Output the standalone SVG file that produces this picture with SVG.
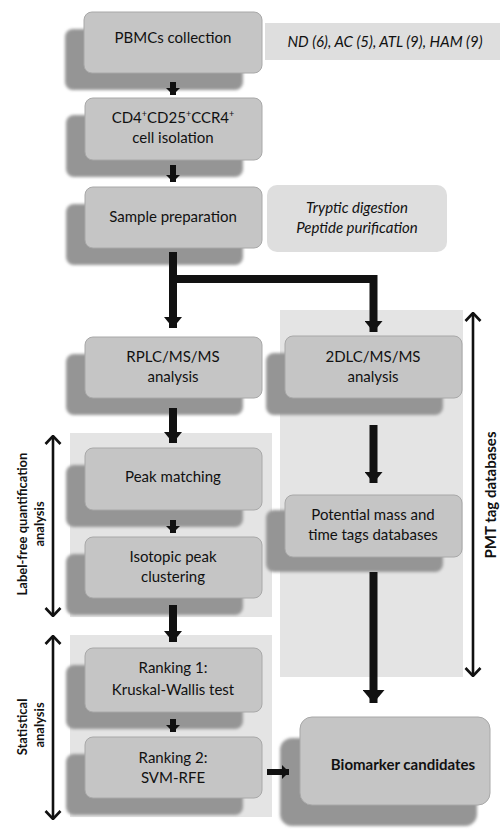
<svg xmlns="http://www.w3.org/2000/svg" width="500" height="831" viewBox="0 0 500 831">
<defs>
<filter id="blur" x="-20%" y="-30%" width="140%" height="160%"><feGaussianBlur stdDeviation="1.5"/></filter>
<marker id="ah" markerUnits="userSpaceOnUse" viewBox="0 0 11 18" markerWidth="11" markerHeight="18" refX="11" refY="9" orient="auto"><path d="M0,0 L11,9 L0,18 z" fill="#111"/></marker>
<marker id="ahs" markerUnits="userSpaceOnUse" viewBox="0 0 7 14" markerWidth="7" markerHeight="14" refX="7" refY="7" orient="auto"><path d="M0,0 L7,7 L0,14 z" fill="#111"/></marker>
<marker id="ahb" markerUnits="userSpaceOnUse" viewBox="0 0 13 22" markerWidth="13" markerHeight="22" refX="13" refY="11" orient="auto"><path d="M0,0 L13,11 L0,22 z" fill="#111"/></marker>
<marker id="chev" markerUnits="userSpaceOnUse" viewBox="0 0 10 18" markerWidth="10" markerHeight="18" refX="9" refY="9" orient="auto-start-reverse"><path d="M1,1.5 L9,9 L1,16.5" fill="none" stroke="#111" stroke-width="2.6"/></marker>
</defs>
<style>
.panel{fill:#e4e4e4}
.ann{fill:#dedede}
.box{fill:#c5c5c5;stroke:#a8a8a8;stroke-width:1}
.sh{fill:#959595}
.t{font-family:Lato,"Open Sans",sans-serif;font-size:15px;fill:#111;text-anchor:middle}
.ti{font-family:Lato,"Open Sans",sans-serif;font-size:15px;font-style:italic;fill:#111;text-anchor:middle}
.tb{font-family:Lato,"Open Sans",sans-serif;font-size:15px;font-weight:bold;fill:#111;text-anchor:middle}
.lab{font-family:Lato,"Open Sans",sans-serif;font-size:13px;font-weight:bold;fill:#111;text-anchor:middle}
.labp{font-family:Lato,"Open Sans",sans-serif;font-size:15px;font-weight:bold;fill:#111;text-anchor:middle}
.c{stroke:#111;fill:none;stroke-width:8}
.cs{stroke:#111;fill:none;stroke-width:6}
.br{stroke:#111;fill:none;stroke-width:2.6}
.sup{font-size:9px}
</style>
<g id="panels">
<rect class="panel" x="280" y="310" width="183" height="367"/>
<rect class="panel" x="70" y="433" width="202" height="184"/>
<rect class="panel" x="70" y="635" width="202" height="182"/>
</g>
<g id="nd-note">
<rect class="ann" x="265" y="23" width="235" height="37"/>
<text class="ti" x="385" y="47">ND (6), AC (5), ATL (9), HAM (9)</text>
</g>
<g id="tryptic-note">
<rect class="ann" x="267" y="185" width="180" height="67" rx="10"/>
<text class="ti" x="357" y="213">Tryptic digestion</text>
<text class="ti" x="357" y="233">Peptide purification</text>
</g>
<g id="pbmc">
<rect class="sh" filter="url(#blur)" x="65" y="29" width="178" height="61" rx="8"/>
<rect class="box" x="84" y="12" width="178" height="61" rx="8"/>
<text class="t" x="173" y="43">PBMCs collection</text>
</g>
<g id="cd4">
<rect class="sh" filter="url(#blur)" x="66" y="115" width="177" height="62" rx="8"/>
<rect class="box" x="85" y="98" width="177" height="62" rx="8"/>
<text class="t" x="173" y="123">CD4<tspan class="sup" dy="-6">+</tspan><tspan dy="6">CD25</tspan><tspan class="sup" dy="-6">+</tspan><tspan dy="6">CCR4</tspan><tspan class="sup" dy="-6">+</tspan></text>
<text class="t" x="173" y="143">cell isolation</text>
</g>
<g id="sample">
<rect class="sh" filter="url(#blur)" x="66" y="204" width="177" height="61" rx="8"/>
<rect class="box" x="85" y="187" width="177" height="61" rx="8"/>
<text class="t" x="173" y="222">Sample preparation</text>
</g>
<g id="rplc">
<rect class="sh" filter="url(#blur)" x="66" y="354" width="177" height="61" rx="8"/>
<rect class="box" x="85" y="337" width="177" height="61" rx="8"/>
<text class="t" x="173" y="362">RPLC/MS/MS</text>
<text class="t" x="173" y="382">analysis</text>
</g>
<g id="dlc">
<rect class="sh" filter="url(#blur)" x="266" y="353" width="177" height="62" rx="8"/>
<rect class="box" x="285" y="336" width="177" height="62" rx="8"/>
<text class="t" x="373" y="362">2DLC/MS/MS</text>
<text class="t" x="373" y="382">analysis</text>
</g>
<g id="peak">
<rect class="sh" filter="url(#blur)" x="66" y="465" width="177" height="62" rx="8"/>
<rect class="box" x="85" y="448" width="177" height="62" rx="8"/>
<text class="t" x="173" y="482">Peak matching</text>
</g>
<g id="potential">
<rect class="sh" filter="url(#blur)" x="266" y="510" width="177" height="62" rx="8"/>
<rect class="box" x="285" y="495" width="177" height="62" rx="8"/>
<text class="t" x="373" y="520">Potential mass and</text>
<text class="t" x="373" y="540">time tags databases</text>
</g>
<g id="isotopic">
<rect class="sh" filter="url(#blur)" x="66" y="554" width="177" height="61" rx="8"/>
<rect class="box" x="85" y="537" width="177" height="61" rx="8"/>
<text class="t" x="173" y="562">Isotopic peak</text>
<text class="t" x="173" y="582">clustering</text>
</g>
<g id="rank1">
<rect class="sh" filter="url(#blur)" x="66" y="665" width="177" height="64" rx="8"/>
<rect class="box" x="85" y="648" width="177" height="64" rx="8"/>
<text class="t" x="173" y="673">Ranking 1:</text>
<text class="t" x="173" y="695">Kruskal-Wallis  test</text>
</g>
<g id="rank2">
<rect class="sh" filter="url(#blur)" x="66" y="754" width="177" height="61" rx="8"/>
<rect class="box" x="85" y="737" width="177" height="61" rx="8"/>
<text class="t" x="173" y="763">Ranking 2:</text>
<text class="t" x="173" y="783">SVM-RFE</text>
</g>
<g id="biomarker">
<rect class="sh" filter="url(#blur)" x="280" y="738" width="197" height="88" rx="12"/>
<rect class="box" x="300" y="717" width="190" height="88" rx="12"/>
<text class="tb" x="403" y="770">Biomarker candidates</text>
</g>
<g id="connectors">
<line class="cs" x1="173" y1="82" x2="173" y2="95" marker-end="url(#ahs)"/>
<line class="cs" x1="173" y1="165" x2="173" y2="182" marker-end="url(#ahs)"/>
<path class="c" d="M173,252 V328" marker-end="url(#ah)"/>
<path class="c" d="M173,279 H373.5 V332" marker-end="url(#ah)"/>
<line class="c" x1="173" y1="408" x2="173" y2="443" marker-end="url(#ah)"/>
<line class="cs" x1="173" y1="520" x2="173" y2="533" marker-end="url(#ahs)"/>
<line class="c" x1="173" y1="605" x2="173" y2="642" marker-end="url(#ah)"/>
<line class="cs" x1="173" y1="719" x2="173" y2="732" marker-end="url(#ahs)"/>
<line class="c" x1="373.5" y1="425" x2="373.5" y2="483" marker-end="url(#ah)"/>
<line class="c" x1="373.5" y1="572" x2="373.5" y2="703" stroke-width="10" marker-end="url(#ahb)"/>
<line class="cs" x1="267" y1="772" x2="289" y2="772" marker-end="url(#ahs)"/>
</g>
<g id="label-free-bracket">
<line class="br" x1="53" y1="436" x2="53" y2="616" marker-start="url(#chev)" marker-end="url(#chev)"/>
<text class="lab" transform="translate(27,524) rotate(-90)">Label-free quantification</text>
<text class="lab" transform="translate(44,524) rotate(-90)">analysis</text>
</g>
<g id="statistical-bracket">
<line class="br" x1="53" y1="636" x2="53" y2="819" marker-start="url(#chev)" marker-end="url(#chev)"/>
<text class="lab" transform="translate(27,727) rotate(-90)">Statistical</text>
<text class="lab" transform="translate(44,725) rotate(-90)">analysis</text>
</g>
<g id="pmt-bracket">
<line class="br" x1="473" y1="313" x2="473" y2="676" marker-start="url(#chev)" marker-end="url(#chev)"/>
<text class="labp" transform="translate(496,495) rotate(-90)">PMT tag databases</text>
</g>
</svg>
